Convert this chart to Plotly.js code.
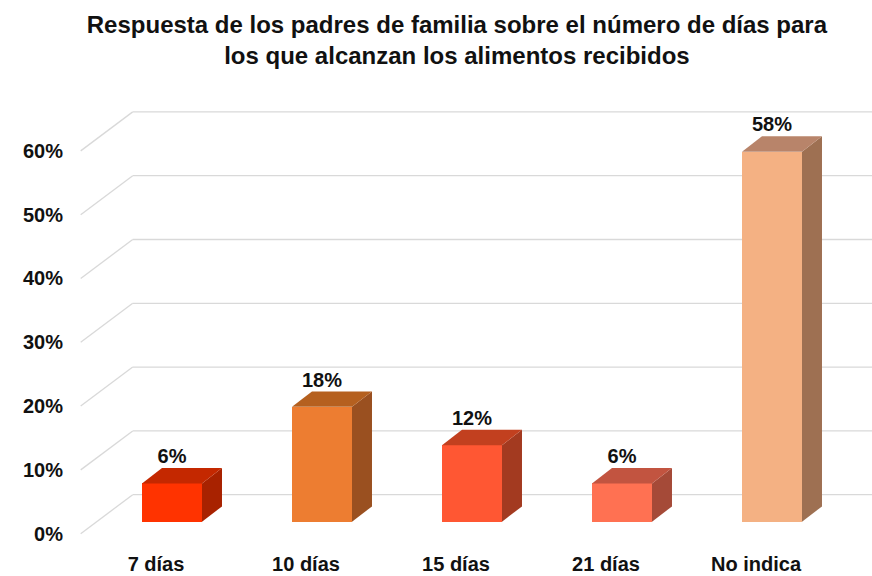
<!DOCTYPE html>
<html><head><meta charset="utf-8">
<script src="https://cdn.plot.ly/plotly-3.0.1.min.js"></script>
<style>html,body{margin:0;padding:0;background:#fff}</style>
</head><body><div id="chart" style="width:872px;height:576px"></div>
<script>
// ---- data ----
const categories = ['7 días', '10 días', '15 días', '21 días', 'No indica'];
const values = [6, 18, 12, 6, 58];
const tickValues = [0, 10, 20, 30, 40, 50, 60];
const tickLabels = ['0%', '10%', '20%', '30%', '40%', '50%', '60%'];
const frontColors = ['#FF3300', '#ED7D31', '#FF5733', '#FF7152', '#F4B183'];
const topColors   = ['#C42800', '#B5601F', '#C2401F', '#C25440', '#B8846A'];
const sideColors  = ['#A82200', '#9A5020', '#A33A20', '#A54A38', '#9E7052'];

// ---- 3D geometry (style constants, in axis units) ----
const HALF = 0.2;        // half bar width
const DX = 0.1333;       // bar depth, x
const DY = 2.4;          // bar depth, y
const FLOOR_X = 0.1067;  // floor front is this far left of the bar plane
const FLOOR_Y = 1.88;    // and this far below
const WALL_X = 0.24;     // back wall is this far right of the bar plane
const WALL_Y = 4.23;     // and this far above
const X_RANGE = [-0.72, 4.6667];
const Y_RANGE = [-4.436, 67.66];
const LEFT_EDGE = -0.6087; // where the floor/grid diagonals start

const FONT = 'Liberation Sans, Arial, sans-serif';
const traces = [];
const shapes = [];

// gridlines (perspective: diagonal on the side wall then horizontal on back wall)
tickValues.forEach(v => {
  const x0 = LEFT_EDGE, y0 = v - FLOOR_Y;
  const x1 = LEFT_EDGE + FLOOR_X + WALL_X, y1 = v + WALL_Y;
  shapes.push({type: 'line', xref: 'x', yref: 'y', x0: x0, y0: y0, x1: x1, y1: y1,
    layer: 'below', line: {color: '#D9D9D9', width: 1.3}});
  shapes.push({type: 'line', xref: 'x', yref: 'y', x0: x1, y0: y1, x1: X_RANGE[1], y1: y1,
    layer: 'below', line: {color: '#D9D9D9', width: 1.3}});
});

// front faces
traces.push({
  type: 'bar', x: categories.map((c, i) => i), y: values, width: 2 * HALF,
  marker: {color: frontColors, line: {width: 0}}, hoverinfo: 'skip', showlegend: false
});

// side and top faces
values.forEach((v, i) => {
  traces.push({
    type: 'scatter', mode: 'lines', fill: 'toself', fillcolor: sideColors[i],
    line: {width: 0, color: sideColors[i]},
    x: [i + HALF, i + HALF + DX, i + HALF + DX, i + HALF, i + HALF],
    y: [0, DY, v + DY, v, 0], hoverinfo: 'skip', showlegend: false
  });
  traces.push({
    type: 'scatter', mode: 'lines', fill: 'toself', fillcolor: topColors[i],
    line: {width: 0, color: topColors[i]},
    x: [i - HALF, i + HALF, i + HALF + DX, i - HALF + DX, i - HALF],
    y: [v, v, v + DY, v + DY, v], hoverinfo: 'skip', showlegend: false
  });
});

// data labels
traces.push({
  type: 'scatter', mode: 'text', x: values.map((v, i) => i),
  y: values.map(v => v + DY + 1.55), text: values.map(v => v + '%'),
  textposition: 'middle center',
  textfont: {family: FONT, size: 20, color: '#111', weight: 'bold'},
  hoverinfo: 'skip', showlegend: false
});

// dummy trace for the tick-label axes (floor-front plane)
traces.push({type: 'scatter', x: [], y: [], xaxis: 'x2', yaxis: 'y2',
  hoverinfo: 'skip', showlegend: false});

const layout = {
  width: 872, height: 576,
  margin: {l: 64, r: 0, t: 90, b: 26},
  paper_bgcolor: '#fff', plot_bgcolor: 'rgba(0,0,0,0)',
  title: {
    text: 'Respuesta de los padres de familia sobre el número de días para<br>los que alcanzan los alimentos recibidos',
    font: {family: FONT, size: 24, color: '#111', weight: 'bold'},
    x: 0.524, xref: 'container', xanchor: 'center',
    y: 0.943, yref: 'container', yanchor: 'top'
  },
  xaxis: {range: X_RANGE, showgrid: false, zeroline: false, showline: false,
    showticklabels: false, ticks: '', fixedrange: true},
  yaxis: {range: Y_RANGE, showgrid: false, zeroline: false, showline: false,
    showticklabels: false, ticks: '', fixedrange: true},
  xaxis2: {overlaying: 'x', anchor: 'y2', side: 'bottom',
    range: [X_RANGE[0] + FLOOR_X, X_RANGE[1] + FLOOR_X],
    tickvals: categories.map((c, i) => i), ticktext: categories,
    showgrid: false, zeroline: false, showline: false, ticks: '',
    tickfont: {family: FONT, size: 20, color: '#111', weight: 'bold'}, fixedrange: true},
  yaxis2: {overlaying: 'y', anchor: 'x2', side: 'left',
    range: [Y_RANGE[0] + FLOOR_Y, Y_RANGE[1] + FLOOR_Y],
    tickvals: tickValues, ticktext: tickLabels,
    showgrid: false, zeroline: false, showline: false, ticks: '',
    tickfont: {family: FONT, size: 20, color: '#111', weight: 'bold'}, fixedrange: true},
  shapes: shapes,
  bargap: 0
};

Plotly.newPlot('chart', traces, layout, {displayModeBar: false, staticPlot: true});
</script></body></html>
